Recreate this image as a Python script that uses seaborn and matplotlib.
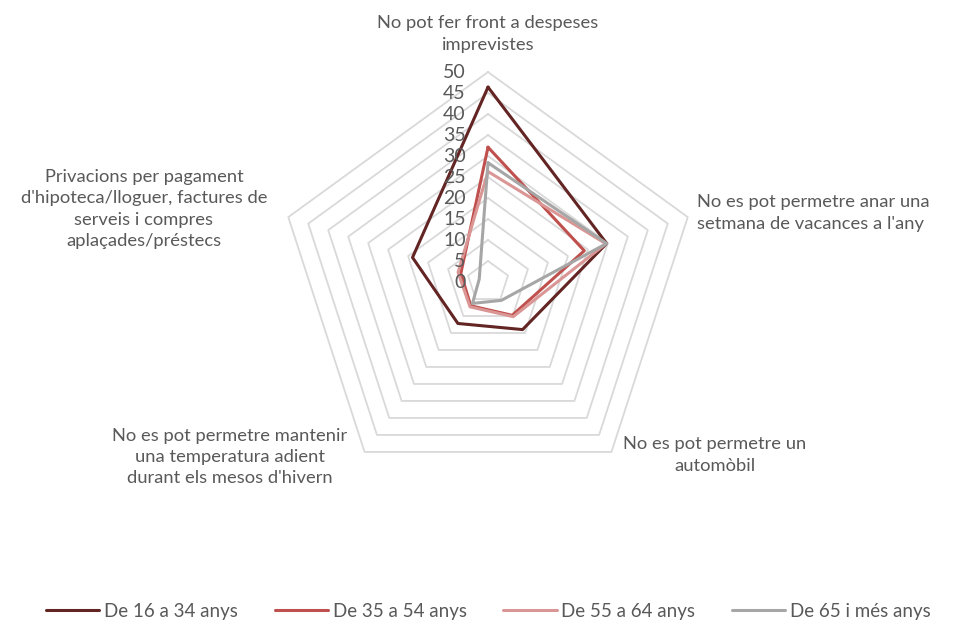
import numpy as np
import pandas as pd
import seaborn as sns
import matplotlib.pyplot as plt
from matplotlib.lines import Line2D

# Data
categories = [
    "No pot fer front a despeses\nimprevistes",
    "No es pot permetre anar una\nsetmana de vacances a l'any",
    "No es pot permetre un\nautomòbil",
    "No es pot permetre mantenir\nuna temperatura adient\ndurant els mesos d'hivern",
    "Privacions per pagament\nd'hipoteca/lloguer, factures de\nserveis i compres\naplaçades/préstecs",
]
groups = ["De 16 a 34 anys", "De 35 a 54 anys", "De 55 a 64 anys", "De 65 i més anys"]
g16_34 = [46.4, 29.7, 14.0, 12.2, 18.9]
g35_54 = [32.1, 24.1, 9.8, 7.0, 6.8]
g55_64 = [26.3, 29.5, 10.2, 7.3, 7.5]
g65 = [28.4, 29.7, 5.4, 6.3, 2.2]
ticks = [0, 5, 10, 15, 20, 25, 30, 35, 40, 45, 50]
colors = ["#632523", "#C0504D", "#DA9694", "#A6A6A6"]

sns.set_theme(style="white")
plt.rcParams["font.family"] = ["Lato", "DejaVu Sans"]
txt = "#595959"

n = len(categories)
theta = np.linspace(0, 2 * np.pi, n + 1)

rows = []
for name, vals in zip(groups, [g16_34, g35_54, g55_64, g65]):
    for t, v in zip(theta, vals + vals[:1]):
        rows.append({"theta": t, "value": v, "group": name})
df = pd.DataFrame(rows)

fig = plt.figure(figsize=(9.54, 6.24), dpi=100)
ax = fig.add_axes([0.2914, 0.2115, 0.4403, 0.6731], projection="polar")
ax.set_theta_zero_location("N")
ax.set_theta_direction(-1)
ax.set_ylim(0, 50)
ax.grid(False)
ax.spines["polar"].set_visible(False)
ax.set_xticks([])
ax.set_yticks([])
ax.patch.set_alpha(0)

# pentagon grid
for v in ticks[1:]:
    ax.plot(theta, [v] * (n + 1), color="#D9D9D9", lw=1.3, zorder=1, clip_on=False)

sns.lineplot(data=df, x="theta", y="value", hue="group", palette=colors,
             linewidth=2.2, ax=ax, legend=False, sort=False, zorder=3)
for l in ax.lines:
    l.set_clip_on(False)

# radial tick labels
for v in ticks:
    ax.annotate(str(v), xy=(0, v), xytext=(-16, 0), textcoords="offset points",
                ha="right", va="center", fontsize=14, color=txt, annotation_clip=False)

# category labels
fs = 13.2
ls = 1.4
fig.text(488 / 954, 1 - 34 / 624, categories[0], ha="center", va="center",
         fontsize=fs, color=txt, linespacing=ls)
fig.text(697 / 954, 1 - 213 / 624, categories[1], ha="left", va="center",
         fontsize=fs, color=txt, linespacing=ls)
fig.text(715 / 954, 1 - 455 / 624, categories[2], ha="center", va="center",
         fontsize=fs, color=txt, linespacing=ls)
fig.text(230 / 954, 1 - 457 / 624, categories[3], ha="center", va="center",
         fontsize=fs, color=txt, linespacing=ls)
fig.text(144 / 954, 1 - 209 / 624, categories[4], ha="center", va="center",
         fontsize=fs, color=txt, linespacing=ls)

handles = [Line2D([0], [0], color=c, lw=2.2) for c in colors]
leg = fig.legend(handles, groups, loc="center", bbox_to_anchor=(0.512, 1 - 611 / 624),
                 ncol=4, frameon=False, fontsize=13.5, handlelength=2.85,
                 handletextpad=0.25, columnspacing=1.95)
for t in leg.get_texts():
    t.set_color(txt)

fig.savefig("out.png", dpi=100)
